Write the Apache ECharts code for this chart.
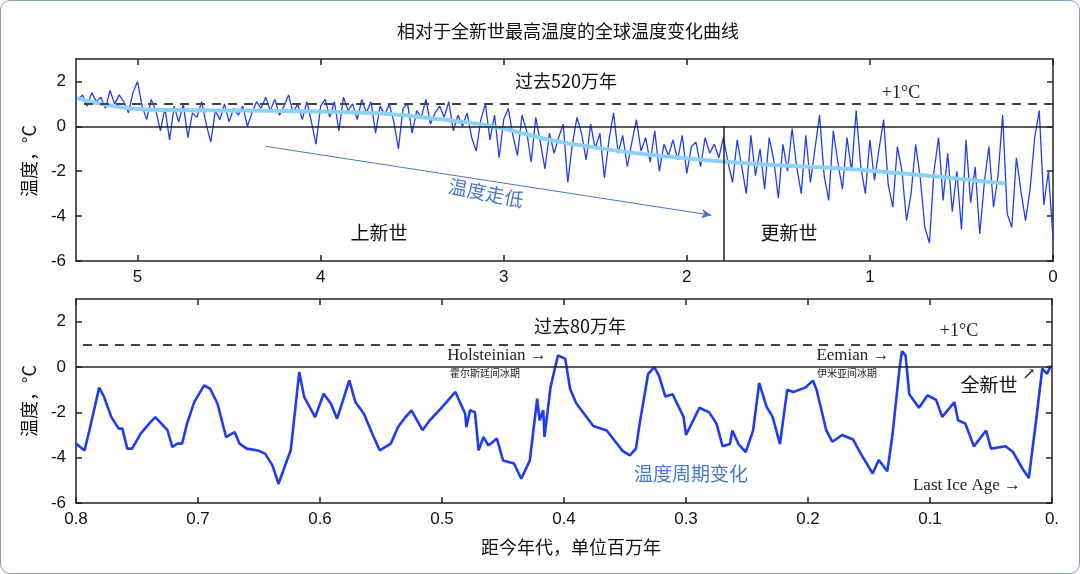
<!DOCTYPE html>
<html><head><meta charset="utf-8">
<script src="https://cdn.jsdelivr.net/npm/echarts@6/dist/echarts.min.js"></script>
<style>html,body{margin:0;padding:0;background:#fff}
#c{width:1080px;height:574px;box-sizing:border-box;border:1.5px solid #8a9bb5;border-radius:10px;}</style>
</head><body><div id="c"></div>
<script>
// Top panel: last 5.2 Myr, ages start at 5.325 Myr, step 0.025 Myr
const topStartAge = 5.325, topStep = 0.025;
const topTemps = [
1.2,1.4,0.9,1.5,1.1,1.3,0.8,1.6,1.0,1.4,
1.1,0.6,1.5,2.0,0.9,0.3,1.2,0.7,-0.2,0.8,
-0.6,0.9,0.2,1.0,-0.5,0.6,0.4,1.1,0.1,-0.7,
0.7,0.3,1.0,0.2,0.8,0.5,0.9,0.0,0.6,1.1,
0.8,1.3,0.7,1.2,0.5,0.9,1.4,0.6,1.0,0.3,
1.1,0.2,-0.8,0.9,1.2,0.4,1.1,-0.2,1.3,0.7,
1.0,0.3,1.2,0.6,1.1,-0.3,0.9,0.5,1.0,0.2,
-1.0,0.8,1.0,-0.3,0.7,0.4,1.2,0.1,0.6,0.9,
0.4,1.1,-0.2,0.5,0.0,0.6,-0.5,-1.1,0.3,1.0,
-0.6,0.5,-1.4,0.3,0.8,-0.4,-1.3,0.5,-0.2,-1.6,
0.4,-0.7,-1.9,-0.3,-1.2,-0.5,0.1,-2.5,-0.8,0.4,
-0.3,-1.5,0.1,-1.0,-0.3,-2.3,-0.6,0.6,-1.2,-0.4,
-1.8,-0.7,0.3,-1.1,-0.5,-1.6,-0.2,-2.0,-0.8,-1.3,
-0.6,-1.5,-0.4,-2.1,-0.9,-0.7,-1.8,-0.5,-1.2,-0.8,
-1.4,-0.5,-1.6,-2.5,-0.6,-1.8,-3.0,-0.4,-2.2,-1.0,
-2.8,-0.5,-1.5,-3.2,-0.8,-2.0,-0.1,-1.8,-3.0,-0.4,
-2.5,-1.0,0.5,-2.2,-3.3,-0.2,-1.6,-2.8,-0.5,-2.0,
0.7,-1.8,-3.0,-0.6,-2.4,-1.0,0.3,-2.6,-3.6,-0.9,
-2.0,-4.2,-3.0,-0.8,-2.3,-4.5,-5.2,-2.0,-0.5,-3.3,
-1.2,-3.8,-2.0,-4.6,-0.6,-3.4,-1.8,-4.8,-2.5,-0.9,
-3.6,-2.2,0.5,-3.9,-4.5,-1.4,-2.9,-4.2,-2.8,-0.5,
0.7,-3.5,-2.0,-5.0];
const trendAges = [5.33,4.93,4.09,3.18,2.64,1.82,1.06,0.26];
const trendTemps = [1.26,0.74,0.67,0.15,-0.77,-1.56,-1.93,-2.55];
// Bottom panel: last 0.8 Myr
const botAges = [0.800,0.793,0.789,0.781,0.777,0.771,0.765,0.762,0.758,0.754,0.747,0.739,0.735,0.730,0.725,0.721,0.717,0.713,0.709,0.703,0.695,0.690,0.684,0.677,0.670,0.666,0.660,0.651,0.645,0.639,0.634,0.628,0.624,0.617,0.613,0.604,0.597,0.591,0.586,0.582,0.576,0.571,0.564,0.556,0.551,0.542,0.536,0.531,0.525,0.516,0.510,0.501,0.489,0.481,0.480,0.477,0.473,0.470,0.466,0.462,0.455,0.450,0.441,0.435,0.428,0.422,0.420,0.417,0.416,0.411,0.405,
0.399,0.395,0.390,0.376,0.365,0.352,0.346,0.341,0.338,0.331,0.326,0.322,0.317,0.311,0.302,0.300,0.289,0.281,0.275,0.270,0.264,0.262,0.257,0.251,0.245,0.240,0.234,0.229,0.223,0.217,0.212,0.202,0.196,0.193,0.185,0.180,0.172,0.163,0.157,0.147,0.142,0.135,0.131,0.125,0.123,0.120,0.117,0.109,0.102,0.095,0.090,0.080,0.077,0.071,0.064,0.054,0.050,0.038,0.032,0.024,0.019,0.013,0.008,0.004,0.001];
const botTemps = [-3.38,-3.68,-2.79,-0.91,-1.32,-2.21,-2.72,-2.72,-3.60,-3.60,-2.94,-2.43,-2.21,-2.50,-2.79,-3.53,-3.38,-3.38,-2.50,-1.54,-0.81,-0.96,-1.62,-3.09,-2.87,-3.38,-3.60,-3.68,-3.82,-4.34,-5.15,-4.26,-3.68,-0.22,-1.32,-2.21,-1.18,-1.62,-2.28,-1.62,-0.59,-1.54,-2.06,-3.09,-3.68,-3.38,-2.65,-2.28,-1.91,-2.79,-2.35,-1.84,-1.10,-2.06,-2.65,-1.91,-1.99,-3.68,-3.09,-3.46,-3.16,-4.12,-4.26,-4.93,-4.12,-1.40,-2.35,-1.91,-3.09,-0.88,0.51,
0.37,-0.96,-1.60,-2.60,-2.80,-3.70,-3.90,-3.60,-2.50,-0.30,0.00,-0.40,-1.30,-1.20,-2.20,-3.00,-1.80,-2.00,-2.50,-3.50,-3.40,-2.80,-3.40,-3.75,-2.80,-0.70,-1.75,-2.20,-3.40,-1.00,-1.10,-0.90,-0.60,-1.00,-2.80,-3.30,-3.00,-3.20,-3.80,-4.70,-4.10,-4.60,-3.10,-0.07,0.70,0.50,-1.20,-1.80,-1.25,-1.45,-2.20,-1.55,-2.35,-2.50,-3.50,-2.80,-3.60,-3.50,-3.75,-4.50,-4.90,-2.35,-0.07,-0.30,0.07];
const topTicks = [5,4,3,2,1,0];
const botTicks = [0.8,0.7,0.6,0.5,0.4,0.3,0.2,0.1,0];
const yTicks = [-6,-4,-2,0,2];

const topData = topTemps.map((v,i)=>[+(topStartAge - i*topStep).toFixed(3), v]);
const trendData = trendAges.map((a,i)=>[a, trendTemps[i]]);
const botData = botAges.map((a,i)=>[a, botTemps[i]]);

const chart = echarts.init(document.getElementById('c'));
const F = '"Noto Sans CJK SC","Noto Sans",sans-serif';
const SERIF = '"Liberation Serif","DejaVu Serif",serif';
function xAx(grid, min, max, ticks, top, fmt){
  return {type:'value', gridIndex:grid, min, max, inverse:true, position: top?'top':'bottom',
    axisLine:{show:true,onZero:false,lineStyle:{color:'#222',width:1.5}},
    axisTick:{show:true,inside:true,length:6,customValues:ticks,lineStyle:{color:'#222',width:1.5}},
    axisLabel:{show:!top,customValues:ticks,color:'#111',fontSize:17,fontFamily:'"Liberation Sans",sans-serif',margin:8,formatter:fmt},
    splitLine:{show:false}};
}
function yAx(grid, right){
  return {type:'value', gridIndex:grid, min:-6, max:3, position:right?'right':'left',
    axisLine:{show:true,onZero:false,lineStyle:{color:'#222',width:1.5}},
    axisTick:{show:true,inside:true,length:6,customValues:yTicks,lineStyle:{color:'#222',width:1.5}},
    axisLabel:{show:!right,customValues:yTicks,color:'#111',fontSize:17,fontFamily:'"Liberation Sans",sans-serif',margin:10},
    splitLine:{show:false}};
}
const refLines = {silent:true,symbol:'none',label:{show:false},data:[
  {yAxis:1,lineStyle:{type:[9,7],color:'#444',width:2}},
  {yAxis:0,lineStyle:{type:'solid',color:'#222',width:1.5}}]};
chart.setOption({
  animation:false,
  title:{text:'相对于全新世最高温度的全球温度变化曲线',left:562,top:16,textAlign:'center',
    textStyle:{fontSize:18,fontWeight:'normal',color:'#111',fontFamily:F}},
  grid:[{left:75,right:26,top:58,height:202},{left:75,right:27,top:298,height:204}],
  xAxis:[xAx(0,0,5.336,topTicks,false,v=>String(v)), xAx(0,0,5.336,topTicks,true),
         xAx(1,0,0.8,botTicks,false,v=>v===0?'0.':v.toFixed(1)), xAx(1,0,0.8,botTicks,true)],
  yAxis:[yAx(0,false),yAx(0,true),yAx(1,false),yAx(1,true)],
  series:[
    {type:'line',xAxisIndex:0,yAxisIndex:0,data:topData,showSymbol:false,lineStyle:{color:'#2040f0',width:1.3},z:3,
      markLine:{silent:true,symbol:'none',label:{show:false},data:[
        {yAxis:1,lineStyle:{type:[9,7],color:'#444',width:2}},
        {yAxis:0,lineStyle:{type:'solid',color:'#222',width:1.5}},
        [{coord:[1.8,-6],lineStyle:{type:'solid',color:'#222',width:1.5}},{coord:[1.8,0]}],
        [{coord:[4.30,-0.89],symbol:'none',lineStyle:{type:'solid',color:'#4a78c8',width:1}},{coord:[1.865,-3.96],symbol:'arrow',symbolSize:[7,10]}]
      ]}},
    {type:'line',xAxisIndex:0,yAxisIndex:0,data:trendData,showSymbol:false,smooth:true,lineStyle:{color:'#8fd0f5',width:4},z:4},
    {type:'line',xAxisIndex:2,yAxisIndex:2,data:botData,showSymbol:false,lineStyle:{color:'#1f3cf2',width:2.6},z:3,markLine:refLines}
  ],
  graphic:[
    {type:'text',x:28,y:160,rotation:Math.PI/2,style:{text:'温度，°C',font:'18px '+F,fill:'#111',textAlign:'center',textVerticalAlign:'middle'}},
    {type:'text',x:28,y:400,rotation:Math.PI/2,style:{text:'温度，°C',font:'18px '+F,fill:'#111',textAlign:'center',textVerticalAlign:'middle'}},
    {type:'text',x:565,y:80,style:{text:'过去520万年',font:'18px '+F,fill:'#111',textAlign:'center',textVerticalAlign:'middle'}},
    {type:'text',x:900,y:92,style:{text:'+1°C',font:'18px '+SERIF,fill:'#222',textAlign:'center',textVerticalAlign:'middle'}},
    {type:'text',x:378,y:232,style:{text:'上新世',font:'19px '+F,fill:'#111',textAlign:'center',textVerticalAlign:'middle'}},
    {type:'text',x:788,y:232,style:{text:'更新世',font:'19px '+F,fill:'#111',textAlign:'center',textVerticalAlign:'middle'}},
    {type:'text',x:485,y:192,rotation:-0.2,style:{text:'温度走低',font:'19px '+F,fill:'#4a78c8',textAlign:'center',textVerticalAlign:'middle'}},
    {type:'text',x:579,y:325,style:{text:'过去80万年',font:'18px '+F,fill:'#111',textAlign:'center',textVerticalAlign:'middle'}},
    {type:'text',x:958,y:330,style:{text:'+1°C',font:'18px '+SERIF,fill:'#222',textAlign:'center',textVerticalAlign:'middle'}},
    {type:'text',x:496,y:355,style:{text:'Holsteinian →',font:'17px '+SERIF,fill:'#222',textAlign:'center',textVerticalAlign:'middle'}},
    {type:'text',x:484,y:372,style:{text:'霍尔斯廷间冰期',font:'10px '+F,fill:'#222',textAlign:'center',textVerticalAlign:'middle'}},
    {type:'text',x:852,y:355,style:{text:'Eemian →',font:'17px '+SERIF,fill:'#222',textAlign:'center',textVerticalAlign:'middle'}},
    {type:'text',x:846,y:372,style:{text:'伊米亚间冰期',font:'10px '+F,fill:'#222',textAlign:'center',textVerticalAlign:'middle'}},
    {type:'text',x:988,y:384,style:{text:'全新世',font:'19px '+F,fill:'#111',textAlign:'center',textVerticalAlign:'middle'}},
    {type:'text',x:1028,y:374,style:{text:'↗',font:'16px '+SERIF,fill:'#222',textAlign:'center',textVerticalAlign:'middle'}},
    {type:'text',x:690,y:473,style:{text:'温度周期变化',font:'19px '+F,fill:'#4a78c8',textAlign:'center',textVerticalAlign:'middle'}},
    {type:'text',x:966,y:485,style:{text:'Last Ice Age →',font:'17px '+SERIF,fill:'#222',textAlign:'center',textVerticalAlign:'middle'}},
    {type:'text',x:570,y:546,style:{text:'距今年代，单位百万年',font:'18px '+F,fill:'#111',textAlign:'center',textVerticalAlign:'middle'}}
  ]
});
</script></body></html>
